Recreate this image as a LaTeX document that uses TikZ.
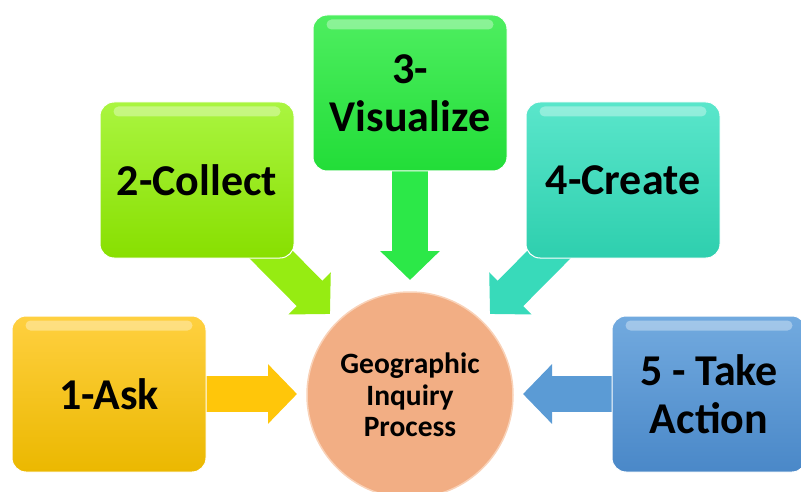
\documentclass[tikz,border=0pt]{standalone}
\usepackage{fontspec}
\setmainfont{Carlito}
\usetikzlibrary{arrows.meta,calc}
\pgfdeclarelayer{background}
\pgfsetlayers{background,main}
\definecolor{goldT}{HTML}{FFD040}
\definecolor{goldB}{HTML}{EBB800}
\definecolor{goldA}{HTML}{FFC60A}
\definecolor{limeT}{HTML}{AAF540}
\definecolor{limeB}{HTML}{88DF00}
\definecolor{limeA}{HTML}{96EC12}
\definecolor{grnT}{HTML}{4EEE60}
\definecolor{grnB}{HTML}{22DD38}
\definecolor{grnA}{HTML}{2CE848}
\definecolor{tealT}{HTML}{5AE6CB}
\definecolor{tealB}{HTML}{2ECFAE}
\definecolor{tealA}{HTML}{38DABA}
\definecolor{bluT}{HTML}{72AADF}
\definecolor{bluB}{HTML}{4A88C8}
\definecolor{bluA}{HTML}{5B9BD5}
\definecolor{salmon}{HTML}{F2AE84}
\definecolor{salmonL}{HTML}{F9D2B8}
\tikzset{
  stepbox/.style={rounded corners=14pt, minimum width=194pt, minimum height=156pt,
    inner sep=4pt, align=center, draw=white, line width=1pt,
    font=\fontsize{44}{48}\selectfont\bfseries, text=black},
  bigarrow/.style={line width=36pt, -{Triangle[length=29pt,width=58pt]}},
  gloss/.style={fill=white, fill opacity=0.35, draw=none, rounded corners=5pt},
}
\begin{document}
\begin{tikzpicture}[x=1pt,y=-1pt]
\useasboundingbox (0,0) rectangle (801,492);
\clip (0,0) rectangle (801,492);
% boxes
\node[stepbox, top color=goldT, bottom color=goldB] (b1) at (109,394) {1-Ask};
\node[stepbox, top color=limeT, bottom color=limeB] (b2) at (197,180) {2-Collect};
\node[stepbox, top color=grnT, bottom color=grnB] (b3) at (410,93) {3-\\Visualize};
\node[stepbox, top color=tealT, bottom color=tealB] (b4) at (623,180) {4-Create};
\node[stepbox, top color=bluT, bottom color=bluB] (b5) at (709,394) {5 - Take\\Action};
% glossy top highlights
\foreach \b in {b1,b2,b3,b4,b5}{
  \fill[gloss] ($(\b.north west)+(14,5)$) rectangle ($(\b.north east)+(-14,15)$);
}
% centre
\node[circle, minimum size=206pt, fill=salmon, draw=salmonL, line width=1.5pt,
  align=center, font=\fontsize{29.5}{31.5}\selectfont\bfseries] (c) at (410,395)
  {Geographic\\Inquiry\\Process};
% arrow tips
\coordinate (t1) at (297,394);
\coordinate (t2) at (330,314);
\coordinate (t3) at (410,280);
\coordinate (t4) at (490,314);
\coordinate (t5) at (523,394);
\begin{pgfonlayer}{background}
\draw[bigarrow, draw=goldA] (b1.center) -- (t1);
\draw[bigarrow, draw=limeA] (b2.center) -- (t2);
\draw[bigarrow, draw=grnA] (b3.center) -- (t3);
\draw[bigarrow, draw=tealA] (b4.center) -- (t4);
\draw[bigarrow, draw=bluA] (b5.center) -- (t5);
\end{pgfonlayer}
\end{tikzpicture}
\end{document}
